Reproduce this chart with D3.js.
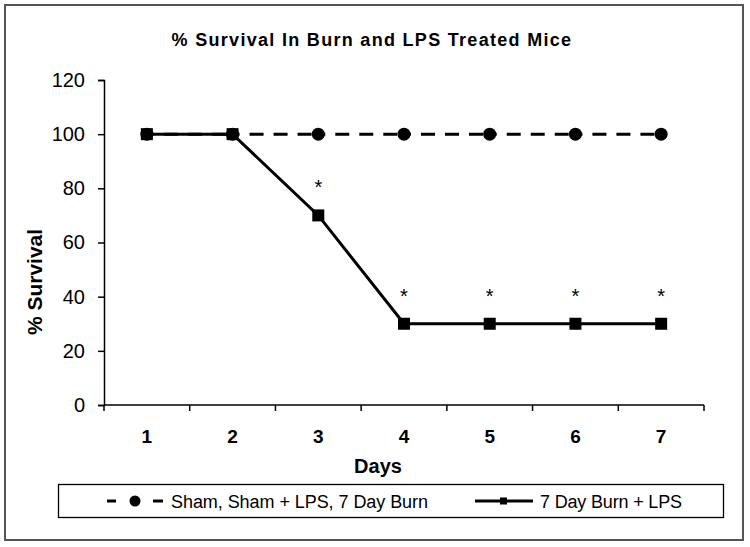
<!DOCTYPE html>
<html><head><meta charset="utf-8">
<script src="https://cdn.jsdelivr.net/npm/d3@7"></script>
<style>body{margin:0;background:#fff}svg{display:block;font-family:Arial,"Liberation Sans",sans-serif}</style>
</head><body><svg id="c" width="750" height="547"></svg>
<script>
const days = ["1","2","3","4","5","6","7"];
const shamValues = [100,100,100,100,100,100,100];
const burnLpsValues = [100,100,70,30,30,30,30];
const significant = [false,false,true,true,true,true,true];
const yTicks = [0,20,40,60,80,100,120];
const seriesNames = ["Sham, Sham + LPS, 7 Day Burn","7 Day Burn + LPS"];

const FONT = "Arial,'Liberation Sans',sans-serif";
const svg = d3.select("#c");
svg.append("rect").attr("x",5).attr("y",5).attr("width",738).attr("height",535)
  .attr("fill","#fff").attr("stroke","#555").attr("stroke-width",2);

const x = d3.scaleBand().domain(days).range([104,704]);
const y = d3.scaleLinear().domain([0,120]).range([405,80]);

svg.append("text").attr("x",372).attr("y",46).attr("text-anchor","middle")
  .attr("font-weight","bold").attr("font-size",18).attr("letter-spacing",1.3)
  .text("% Survival In Burn and LPS Treated Mice");

const ya = svg.append("g").attr("transform","translate(104,0)")
  .call(d3.axisLeft(y).tickValues(yTicks).tickSize(6).tickPadding(13).tickFormat(d3.format("d")));
ya.selectAll("text").attr("font-size",20).attr("font-family",FONT).attr("fill","#000");
ya.select(".domain").attr("stroke","#000").attr("stroke-width",1.5);
ya.selectAll(".tick line").attr("stroke","#000").attr("stroke-width",1.5);

const xa = svg.append("g").attr("transform","translate(0,405)")
  .call(d3.axisBottom(x).tickSize(0).tickPadding(25));
xa.select(".domain").attr("stroke","#000").attr("stroke-width",1.5).attr("d","M104,0H704");
xa.selectAll("text").attr("font-size",19).attr("font-weight","bold").attr("font-family",FONT).attr("fill","#000");
const bounds = days.map(d=>x(d)).concat([x.range()[1]]);
xa.selectAll(".bt").data(bounds).enter().append("line").attr("class","bt")
  .attr("x1",d=>d).attr("x2",d=>d).attr("y1",0).attr("y2",6).attr("stroke","#000").attr("stroke-width",1.5);

svg.append("text").attr("x",378).attr("y",473).attr("text-anchor","middle")
  .attr("font-weight","bold").attr("font-size",20).text("Days");
svg.append("text").attr("transform","translate(42,282) rotate(-90)").attr("text-anchor","middle")
  .attr("font-weight","bold").attr("font-size",21).text("% Survival");

const cx = d => x(d)+x.bandwidth()/2;

// sham series: dashed, each segment dashed from its own start
const shamSegs = d3.pairs(shamValues.map((v,i)=>[cx(days[i]),y(v)]));
svg.selectAll(".seg").data(shamSegs).enter().append("line")
  .attr("x1",d=>d[0][0]).attr("y1",d=>d[0][1]).attr("x2",d=>d[1][0]).attr("y2",d=>d[1][1])
  .attr("stroke","#000").attr("stroke-width",3).attr("stroke-dasharray","14,10").attr("stroke-dashoffset",7);

const line = d3.line().x((v,i)=>cx(days[i])).y(v=>y(v));
svg.append("path").datum(burnLpsValues).attr("d",line).attr("fill","none")
  .attr("stroke","#000").attr("stroke-width",3);

svg.selectAll(".circ").data(shamValues).enter().append("circle")
  .attr("cx",(v,i)=>cx(days[i])).attr("cy",v=>y(v)).attr("r",6.5).attr("fill","#000");
svg.selectAll(".sq").data(burnLpsValues).enter().append("rect")
  .attr("x",(v,i)=>cx(days[i])-6).attr("y",v=>y(v)-6).attr("width",12).attr("height",12).attr("fill","#000");

svg.selectAll(".star").data(burnLpsValues.map((v,i)=>({v,i})).filter(d=>significant[d.i])).enter().append("text")
  .attr("x",d=>cx(days[d.i])).attr("y",d=>y(d.v)-21).attr("text-anchor","middle")
  .attr("font-size",20).text("*");

// legend
svg.append("rect").attr("x",58.5).attr("y",484.5).attr("width",665).attr("height",33)
  .attr("fill","#fff").attr("stroke","#000").attr("stroke-width",1.3);
const lg = svg.append("g").attr("font-family",FONT).attr("font-size",18);
lg.append("line").attr("x1",107).attr("x2",116).attr("y1",501).attr("y2",501).attr("stroke","#000").attr("stroke-width",3);
lg.append("line").attr("x1",153).attr("x2",163).attr("y1",501).attr("y2",501).attr("stroke","#000").attr("stroke-width",3);
lg.append("circle").attr("cx",135).attr("cy",501).attr("r",5.5).attr("fill","#000");
lg.append("text").attr("x",171).attr("y",508).attr("textLength",257).text(seriesNames[0]);
lg.append("line").attr("x1",475).attr("x2",533).attr("y1",501).attr("y2",501)
  .attr("stroke","#000").attr("stroke-width",3);
lg.append("rect").attr("x",500).attr("y",497.5).attr("width",7).attr("height",7).attr("fill","#000");
lg.append("text").attr("x",540).attr("y",508).attr("textLength",142).text(seriesNames[1]);
</script></body></html>
